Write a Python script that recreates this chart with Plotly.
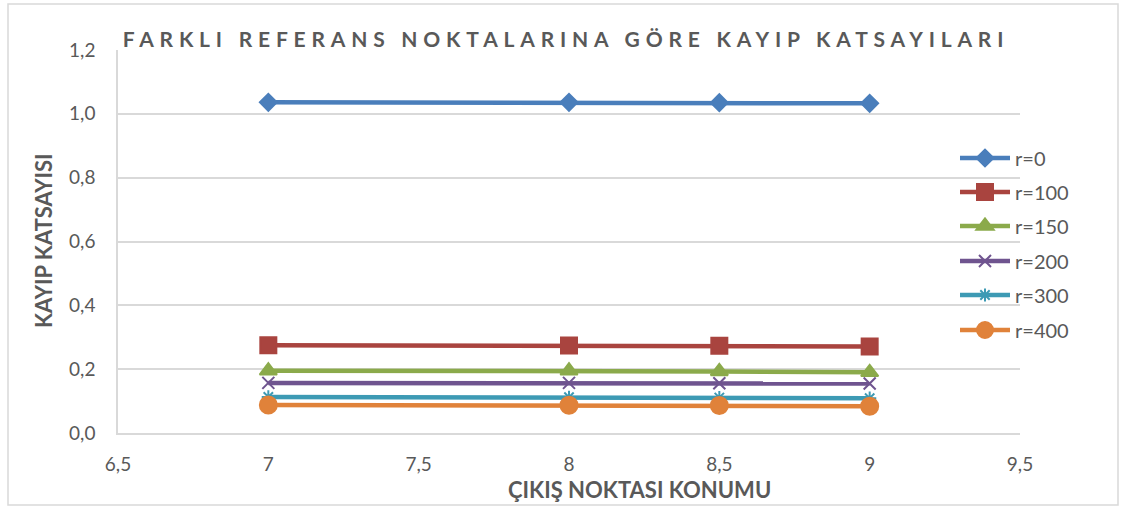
import plotly.graph_objects as go

x_pos = [7, 8, 8.5, 9]
series_names = ["r=0", "r=100", "r=150", "r=200", "r=300", "r=400"]
r0 = [1.036, 1.036, 1.035, 1.033]
r100 = [0.275, 0.274, 0.273, 0.271]
r150 = [0.195, 0.195, 0.193, 0.190]
r200 = [0.157, 0.157, 0.156, 0.155]
r300 = [0.113, 0.112, 0.111, 0.109]
r400 = [0.088, 0.087, 0.086, 0.084]
values = [r0, r100, r150, r200, r300, r400]

x_tickvals = [6.5, 7, 7.5, 8, 8.5, 9, 9.5]
x_ticktext = ["6,5", "7", "7,5", "8", "8,5", "9", "9,5"]
y_tickvals = [0, 0.2, 0.4, 0.6, 0.8, 1.0, 1.2]
y_ticktext = ["0,0", "0,2", "0,4", "0,6", "0,8", "1,0", "1,2"]

colors = ["#4A7EBB", "#A9443F", "#8BAA4B", "#6F548F", "#3D9AB4", "#E0823A"]
symbols = ["diamond", "square", "triangle-up", "x-thin-open", "asterisk-open", "circle"]
msizes = [13, 16, 15, 12, 11, 17]

W, H = 1126, 509
L, R, T, B = 118, 106, 50, 76
pw, ph = W - L - R, H - T - B

def px(xp):
    return (xp - L) / pw

def py(yp):
    return (H - B - yp) / ph

fig = go.Figure()
legend_ys = [158, 192, 226, 261, 295, 330]
for i, (name, vals) in enumerate(zip(series_names, values)):
    lname = "legend" if i == 0 else f"legend{i+1}"
    fig.add_trace(go.Scatter(
        x=x_pos, y=vals, name=name, mode="lines+markers",
        line=dict(color=colors[i], width=4.5),
        marker=dict(symbol=symbols[i], size=msizes[i], color=colors[i],
                    line=dict(color=colors[i], width=2)),
        legend=lname,
    ))
    fig.update_layout(**{lname: dict(
        x=px(955), y=py(legend_ys[i]), xanchor="left", yanchor="middle",
        bgcolor="rgba(0,0,0,0)",
        font=dict(family="Lato, sans-serif", size=20, color="#595959"),
        itemwidth=50,
    )})

fig.update_layout(
    width=W, height=H,
    margin=dict(l=L, r=R, t=T, b=B),
    paper_bgcolor="white", plot_bgcolor="white",
    showlegend=True,
    font=dict(family="Lato, sans-serif", color="#595959"),
    title=dict(text="<b>FARKLI REFERANS NOKTALARINA GÖRE KAYIP KATSAYILARI</b>",
               x=566 / W, xanchor="center", y=1 - 40 / H, yanchor="middle",
               font=dict(family="Lato, sans-serif", size=21, color="#595959")),
    xaxis=dict(range=[6.5, 9.5], tickvals=x_tickvals, ticktext=x_ticktext,
               showgrid=False, zeroline=False, showline=True, linecolor="#D9D9D9",
               linewidth=1.5, ticks="outside", ticklen=13, tickcolor="rgba(0,0,0,0)",
               tickfont=dict(size=19, color="#595959")),
    yaxis=dict(range=[0, 1.2], tickvals=y_tickvals, ticktext=y_ticktext,
               showgrid=True, gridcolor="#D9D9D9", gridwidth=1.5, zeroline=False,
               showline=True, linecolor="#D9D9D9", linewidth=1.5,
               ticks="outside", ticklen=17, tickcolor="rgba(0,0,0,0)",
               tickfont=dict(size=19, color="#595959")),
    annotations=[
        dict(text="<b>ÇIKIŞ NOKTASI KONUMU</b>", xref="paper", yref="paper",
             x=px(639), y=py(489), xanchor="center", yanchor="middle", showarrow=False,
             font=dict(family="Lato, sans-serif", size=22, color="#595959")),
        dict(text="<b>KAYIP KATSAYISI</b>", xref="paper", yref="paper",
             x=px(43), y=py(241), xanchor="center", yanchor="middle", showarrow=False,
             textangle=-90,
             font=dict(family="Lato, sans-serif", size=22, color="#595959")),
    ],
    shapes=[dict(type="rect", xref="paper", yref="paper",
                 x0=px(8), x1=px(1118), y0=py(505), y1=py(4),
                 line=dict(color="#D9D9D9", width=1.5), fillcolor="rgba(0,0,0,0)")],
)

post = """
document.body.style.margin='0';
var gd=document.getElementById('{plot_id}');
function ls(){var t=gd.querySelector('.gtitle'); if(t){t.style.letterSpacing='5.8px';}}
ls(); if(gd.on){gd.on('plotly_afterplot', ls);}
"""

fig.write_html("out.html", post_script=post, config={"displayModeBar": False})
